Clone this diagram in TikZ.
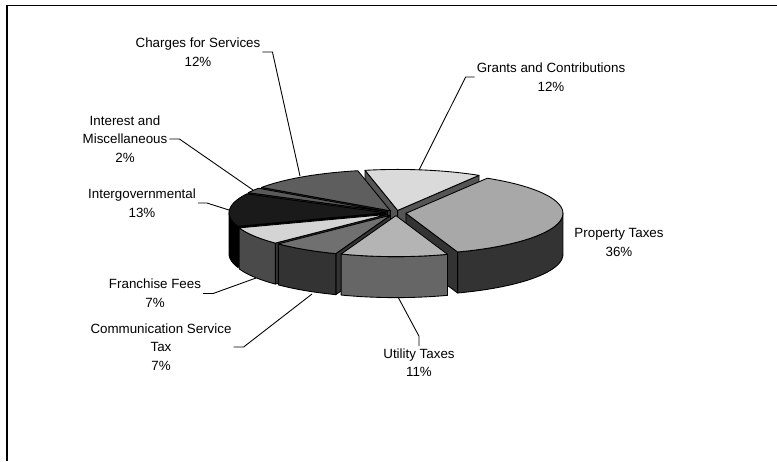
\documentclass[tikz,border=0pt]{standalone}
\usepackage{fontspec}
\setmainfont{Liberation Sans}
\usepackage{xcolor}
\definecolor{pieGrants}{HTML}{DADADA}
\definecolor{pieProperty}{HTML}{A8A8A8}
\definecolor{pieUtility}{HTML}{B4B4B4}
\definecolor{pieComm}{HTML}{707070}
\definecolor{pieFranchise}{HTML}{D4D4D4}
\definecolor{pieIntergov}{HTML}{1A1A1A}
\definecolor{pieInterest}{HTML}{5A5A5A}
\definecolor{pieCharges}{HTML}{5E5E5E}
\definecolor{sideDark}{HTML}{333333}
\definecolor{sideMid}{HTML}{555555}
\definecolor{sideUtility}{HTML}{666666}
\definecolor{sideFranchise}{HTML}{4A4A4A}
\newcommand{\pieX}{396}
\newcommand{\pieY}{213}
\newcommand{\pieRx}{157}
\newcommand{\pieRy}{41}
\newcommand{\pieD}{41}
\newcommand{\pieE}{10}
% top of a slice, its rim and its cut faces
\newcommand{\topface}[3]{\filldraw[slc, fill=#3] ({\pieX},{\pieY}) -- plot[domain=#1:#2, samples=40] ({\pieX+\pieRx*sin(\x)},{\pieY-\pieRy*cos(\x)}) -- cycle;}
\newcommand{\rimside}[3]{\filldraw[slc, fill=#3] plot[domain=#1:#2, samples=40] ({\pieX+\pieRx*sin(\x)},{\pieY-\pieRy*cos(\x)}) -- plot[domain=#2:#1, samples=40] ({\pieX+\pieRx*sin(\x)},{\pieY-\pieRy*cos(\x)+\pieD}) -- cycle;}
\newcommand{\cutface}[2]{\filldraw[slc, fill=#2] ({\pieX},{\pieY}) -- ({\pieX+\pieRx*sin(#1)},{\pieY-\pieRy*cos(#1)}) -- ++(0,\pieD) -- ({\pieX},{\pieY+\pieD}) -- cycle;}
\tikzset{
  slc/.style={draw=black, line width=0.5pt, line join=round},
  explode/.style={shift={({\pieE*sin(#1)},{-\pieE*cos(#1)*\pieRy/\pieRx})}},
  lbl/.style={font=\fontsize{7.6}{10.6}\selectfont, align=center, inner sep=1pt},
  leader/.style={draw=black, line width=0.5pt}
}

\begin{document}
\begin{tikzpicture}[x=0.02cm, y=-0.02cm]
  \useasboundingbox (0,0) rectangle (777,461);
  \draw[line width=1pt] (7,461) -- (7,5.5) -- (777,5.5);

  % slices, back to front
  \begin{scope}[explode=9.6]
    \cutface{-12}{sideMid}
    \cutface{31.2}{sideMid}
    \topface{-12}{31.2}{pieGrants}
  \end{scope}
  \begin{scope}[explode=326.4]
    \cutface{304.8}{sideDark}
    \topface{304.8}{348}{pieCharges}
  \end{scope}
  \begin{scope}[explode=301.2]
    \cutface{297.6}{sideDark}
    \topface{297.6}{304.8}{pieInterest}
  \end{scope}
  \begin{scope}[explode=274.2]
    \cutface{250.8}{black}
    \rimside{250.8}{270}{black}
    \topface{250.8}{297.6}{pieIntergov}
  \end{scope}
  \begin{scope}[explode=96]
    \cutface{160.8}{sideDark}
    \rimside{90}{160.8}{sideDark}
    \topface{31.2}{160.8}{pieProperty}
  \end{scope}
  \begin{scope}[explode=238.2]
    \cutface{225.6}{sideDark}
    \rimside{225.6}{250.8}{sideFranchise}
    \topface{225.6}{250.8}{pieFranchise}
  \end{scope}
  \begin{scope}[explode=213]
    \cutface{200.4}{sideDark}
    \rimside{200.4}{225.6}{sideDark}
    \topface{200.4}{225.6}{pieComm}
  \end{scope}
  \begin{scope}[explode=180.6]
    \rimside{160.8}{200.4}{sideUtility}
    \topface{160.8}{200.4}{pieUtility}
  \end{scope}

  % labels
  \node[lbl] (lblCharges) at (198,52) {Charges for Services\\12\%};
  \node[lbl] (lblGrants) at (551,77) {Grants and Contributions\\12\%};
  \node[lbl] (lblInterest) at (125,139) {Interest and\\Miscellaneous\\2\%};
  \node[lbl] (lblIntergov) at (142,203) {Intergovernmental\\13\%};
  \node[lbl] (lblProperty) at (619,242.5) {Property Taxes\\36\%};
  \node[lbl] (lblFranchise) at (155,293.5) {Franchise Fees\\7\%};
  \node[lbl] (lblComm) at (161,347) {Communication Service\\Tax\\7\%};
  \node[lbl] (lblUtility) at (419,362.5) {Utility Taxes\\11\%};

  \coordinate (endCharges) at (300,176);
  \coordinate (endGrants) at (419,170);
  \coordinate (endInterest) at (253,190);
  \coordinate (endIntergov) at (229,210);
  \coordinate (endFranchise) at (256,278);
  \coordinate (endComm) at (312,294);
  \coordinate (endUtility) at (398,297);

  \draw[leader] (lblCharges.east) -- ++(10,0) -- (endCharges);
  \draw[leader] (lblGrants.west) -- ++(-9,0) -- (endGrants);
  \draw[leader] (lblInterest.east) -- ++(10,0) -- (endInterest);
  \draw[leader] (lblIntergov.east) -- ++(9,0) -- (endIntergov);
  \draw[leader] (lblFranchise.east) -- ++(10,0) -- (endFranchise);
  \draw[leader] (lblComm.east) -- ++(10,0) -- (endComm);
  \draw[leader] (lblUtility.north) -- ++(0,-10) -- (endUtility);
\end{tikzpicture}
\end{document}
